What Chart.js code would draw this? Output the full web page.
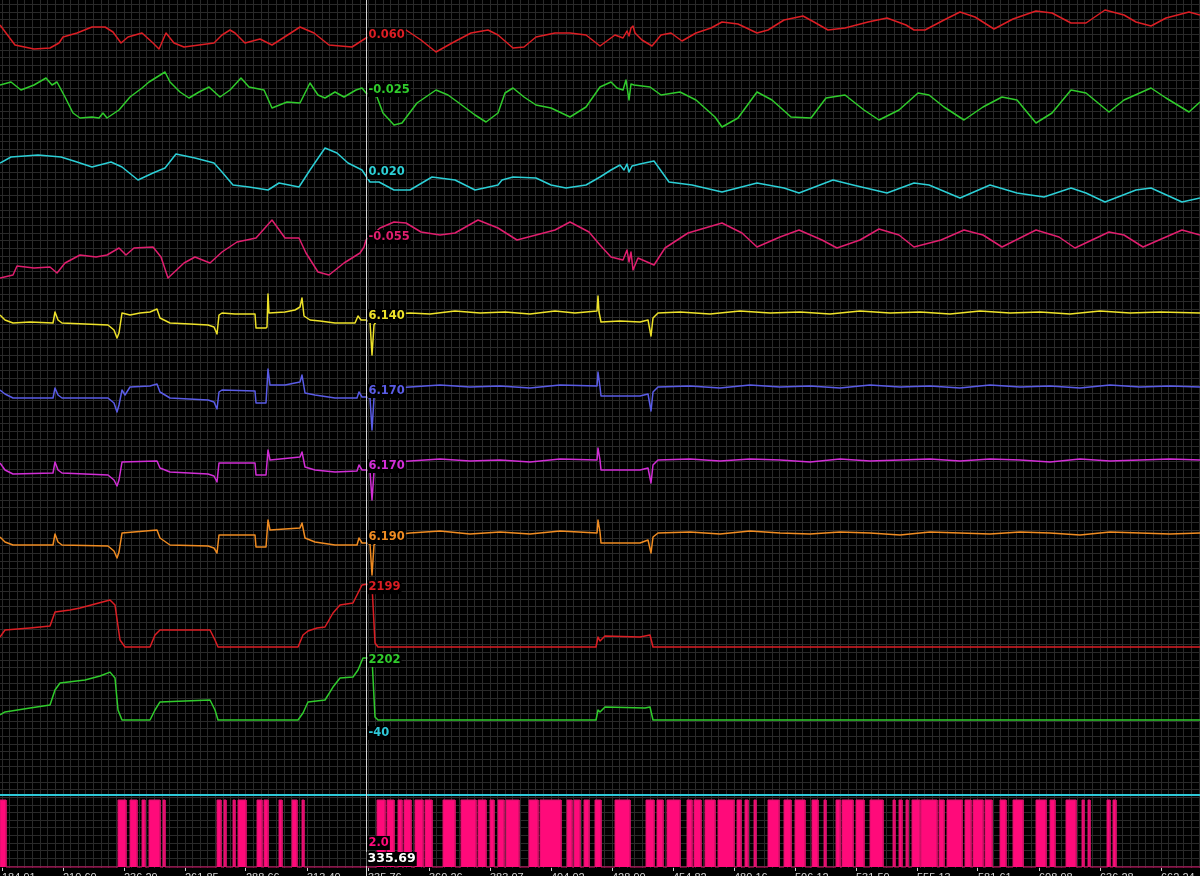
<!DOCTYPE html>
<html>
<head>
<meta charset="utf-8">
<script src="https://cdn.jsdelivr.net/npm/chart.js@4.4.1/dist/chart.umd.min.js"></script>
<style>
  html, body { margin: 0; padding: 0; background: #000; overflow: hidden; }
  #wrap { width: 1200px; height: 884px; }
</style>
</head>
<body>
<div id="wrap"><canvas id="scope"></canvas></div>
<script>
// x = sample index (0..1200), tick labels are the recorded times
const tickLabels = ['184.91', '210.60', '236.29', '261.85', '288.66', '313.40', '335.76', '360.26', '383.07', '404.02',
                    '428.90', '454.82', '480.16', '506.12', '531.50', '555.13', '581.61', '608.98', '636.28', '662.24'];
const cursorX = 366;
const cursorTime = '335.69';

const redWave = [[0,0.073],[6,0.065],[15,0.053],[34,0.049],[50,0.050],[59,0.055],[63,0.061],[77,0.065],[92,0.071],[105,0.071],
  [113,0.066],[121,0.055],[128,0.061],[142,0.065],[153,0.055],[159,0.049],[166,0.065],[174,0.055],[184,0.051],[199,0.053],
  [214,0.055],[222,0.063],[230,0.068],[235,0.065],[245,0.055],[260,0.059],[272,0.053],[283,0.060],[300,0.071],[314,0.065],
  [329,0.053],[352,0.051],[366,0.060],[385,0.065],[406,0.068],[421,0.058],[436,0.046],[452,0.055],[471,0.065],[488,0.068],
  [498,0.063],[513,0.050],[524,0.051],[536,0.061],[555,0.065],[570,0.065],[586,0.063],[600,0.052],[615,0.063],[623,0.060],
  [627,0.067],[629,0.062],[631,0.070],[633,0.072],[635,0.065],[642,0.058],[652,0.052],[661,0.063],[671,0.065],[682,0.057],
  [696,0.065],[711,0.070],[722,0.076],[738,0.074],[757,0.065],[768,0.068],[784,0.078],[803,0.082],[814,0.076],[828,0.068],
  [845,0.070],[868,0.076],[887,0.080],[906,0.073],[914,0.068],[925,0.068],[944,0.078],[960,0.086],[975,0.081],[994,0.069],
  [1013,0.079],[1036,0.087],[1052,0.085],[1071,0.075],[1086,0.075],[1105,0.088],[1124,0.083],[1136,0.076],[1151,0.072],
  [1166,0.080],[1189,0.086],[1200,0.083]];

const greenWave = [[0,-0.017],[11,-0.014],[21,-0.022],[34,-0.017],[46,-0.010],[52,-0.017],[57,-0.014],[65,-0.029],[73,-0.045],
  [80,-0.050],[92,-0.049],[99,-0.050],[103,-0.045],[107,-0.050],[119,-0.042],[130,-0.029],[142,-0.020],[149,-0.014],[157,-0.009],
  [165,-0.004],[170,-0.014],[180,-0.024],[189,-0.030],[199,-0.024],[209,-0.019],[220,-0.029],[230,-0.022],[241,-0.010],[249,-0.019],
  [264,-0.022],[272,-0.040],[287,-0.034],[300,-0.035],[310,-0.015],[318,-0.027],[325,-0.030],[335,-0.024],[344,-0.029],[356,-0.022],
  [362,-0.020],[366,-0.025],[377,-0.029],[383,-0.045],[394,-0.057],[402,-0.055],[417,-0.035],[436,-0.022],[448,-0.027],[459,-0.035],
  [475,-0.047],[486,-0.054],[498,-0.045],[505,-0.025],[513,-0.020],[524,-0.029],[536,-0.037],[551,-0.040],[570,-0.049],[586,-0.039],
  [600,-0.019],[611,-0.014],[617,-0.020],[623,-0.022],[626,-0.012],[629,-0.032],[631,-0.016],[634,-0.017],[650,-0.019],[661,-0.027],
  [680,-0.024],[696,-0.032],[715,-0.049],[722,-0.059],[738,-0.050],[757,-0.024],[772,-0.032],[791,-0.049],[811,-0.050],[826,-0.030],
  [845,-0.027],[864,-0.042],[879,-0.052],[899,-0.042],[918,-0.025],[929,-0.027],[944,-0.039],[964,-0.052],[983,-0.039],[1002,-0.029],
  [1017,-0.032],[1036,-0.055],[1052,-0.045],[1071,-0.022],[1086,-0.025],[1109,-0.044],[1124,-0.032],[1151,-0.020],[1166,-0.030],
  [1189,-0.044],[1200,-0.034]];

const cyanWave = [[0,0.033],[11,0.039],[38,0.041],[61,0.039],[77,0.034],[92,0.029],[111,0.034],[122,0.029],[138,0.016],[153,0.023],
  [165,0.028],[176,0.042],[195,0.038],[214,0.033],[222,0.024],[233,0.011],[249,0.009],[268,0.006],[279,0.013],[299,0.009],
  [310,0.026],[325,0.048],[337,0.043],[348,0.033],[362,0.026],[366,0.020],[370,0.014],[379,0.014],[394,0.006],[410,0.006],
  [432,0.019],[455,0.016],[475,0.006],[498,0.011],[502,0.016],[513,0.019],[536,0.018],[551,0.011],[566,0.008],[586,0.011],
  [600,0.019],[611,0.026],[620,0.031],[624,0.026],[627,0.032],[629,0.024],[632,0.030],[640,0.032],[654,0.035],[669,0.014],
  [692,0.011],[722,0.004],[757,0.013],[784,0.008],[799,0.003],[833,0.016],[853,0.011],[887,0.003],[914,0.013],[929,0.011],
  [960,-0.002],[990,0.011],[1017,0.003],[1044,-0.001],[1071,0.008],[1086,0.003],[1105,-0.006],[1136,0.006],[1151,0.008],
  [1182,-0.006],[1200,-0.002]];

const pinkWave = [[0,-0.093],[13,-0.090],[17,-0.081],[34,-0.083],[50,-0.082],[57,-0.088],[65,-0.078],[80,-0.070],[96,-0.072],
  [107,-0.070],[119,-0.063],[126,-0.070],[134,-0.063],[153,-0.062],[161,-0.072],[168,-0.093],[184,-0.078],[195,-0.072],[210,-0.078],
  [222,-0.067],[237,-0.057],[256,-0.053],[272,-0.035],[285,-0.053],[299,-0.053],[306,-0.068],[318,-0.087],[329,-0.090],[344,-0.078],
  [360,-0.068],[364,-0.062],[366,-0.055],[380,-0.043],[394,-0.037],[406,-0.038],[421,-0.047],[440,-0.050],[455,-0.048],[478,-0.035],
  [498,-0.043],[517,-0.055],[536,-0.050],[555,-0.045],[570,-0.037],[589,-0.047],[600,-0.060],[611,-0.072],[623,-0.075],[627,-0.065],
  [629,-0.077],[631,-0.067],[633,-0.085],[638,-0.073],[654,-0.080],[665,-0.063],[688,-0.048],[722,-0.038],[742,-0.048],[757,-0.062],
  [780,-0.052],[799,-0.045],[822,-0.055],[837,-0.063],[860,-0.055],[879,-0.044],[899,-0.050],[914,-0.062],[941,-0.055],[964,-0.045],
  [983,-0.050],[1002,-0.062],[1036,-0.045],[1059,-0.052],[1075,-0.063],[1109,-0.047],[1124,-0.050],[1143,-0.062],[1182,-0.045],
  [1200,-0.050]];

const yellowLevel = [[0,6.145],[5,6.140],[13,6.137],[30,6.138],[53,6.137],[55,6.148],[58,6.140],[62,6.137],[85,6.136],[108,6.135],
  [114,6.130],[117,6.122],[119,6.127],[122,6.147],[130,6.145],[140,6.147],[150,6.148],[157,6.151],[160,6.142],[170,6.137],
  [190,6.136],[208,6.135],[214,6.133],[217,6.126],[219,6.145],[222,6.147],[235,6.146],[255,6.146],[256,6.132],[266,6.132],
  [267,6.133],[268,6.166],[269,6.147],[285,6.148],[295,6.150],[300,6.153],[302,6.162],[304,6.144],[310,6.140],[320,6.139],
  [335,6.137],[355,6.137],[358,6.144],[361,6.140],[366,6.140],[370,6.138],[372,6.105],[374,6.135],[380,6.144],[395,6.146],
  [410,6.147],[430,6.146],[455,6.149],[480,6.147],[505,6.148],[530,6.146],[555,6.149],[575,6.147],[597,6.149],[598,6.164],
  [599,6.148],[601,6.138],[620,6.139],[640,6.138],[648,6.140],[651,6.124],[653,6.142],[658,6.147],[680,6.148],[710,6.146],
  [740,6.149],[770,6.147],[800,6.148],[830,6.146],[860,6.149],[890,6.147],[920,6.148],[950,6.146],[980,6.149],[1010,6.147],
  [1040,6.148],[1070,6.146],[1100,6.149],[1130,6.147],[1160,6.148],[1200,6.147]];

const blueLevel = [[0,6.177],[5,6.173],[13,6.169],[53,6.169],[55,6.179],[58,6.172],[62,6.169],[108,6.169],[114,6.164],[117,6.155],
  [119,6.162],[122,6.177],[125,6.172],[130,6.180],[150,6.181],[157,6.183],[160,6.175],[170,6.169],[208,6.167],[214,6.165],
  [217,6.158],[219,6.175],[222,6.177],[255,6.176],[256,6.164],[266,6.164],[268,6.198],[270,6.182],[285,6.182],[300,6.185],
  [302,6.192],[305,6.174],[315,6.172],[335,6.169],[357,6.169],[359,6.175],[362,6.170],[366,6.170],[370,6.169],[372,6.137],
  [374,6.169],[380,6.176],[395,6.179],[410,6.180],[440,6.182],[470,6.180],[500,6.181],[530,6.179],[560,6.182],[597,6.181],
  [598,6.195],[600,6.180],[601,6.171],[640,6.171],[648,6.173],[651,6.156],[653,6.175],[658,6.180],[690,6.181],[720,6.179],
  [750,6.182],[780,6.180],[810,6.181],[840,6.179],[870,6.182],[900,6.180],[930,6.181],[960,6.179],[990,6.182],[1020,6.180],
  [1050,6.181],[1080,6.179],[1110,6.182],[1140,6.180],[1170,6.181],[1200,6.180]];

const violetLevel = [[0,6.177],[5,6.170],[13,6.166],[53,6.167],[55,6.178],[58,6.170],[62,6.167],[108,6.165],[114,6.160],[117,6.154],
  [119,6.160],[122,6.178],[157,6.179],[160,6.172],[170,6.168],[208,6.166],[214,6.164],[217,6.158],[219,6.177],[255,6.177],
  [256,6.165],[266,6.165],[268,6.190],[270,6.180],[300,6.183],[302,6.188],[305,6.173],[315,6.170],[335,6.168],[357,6.169],
  [359,6.175],[362,6.170],[366,6.170],[370,6.169],[372,6.140],[374,6.168],[380,6.175],[395,6.178],[410,6.179],[440,6.181],
  [470,6.179],[500,6.180],[530,6.178],[560,6.181],[597,6.180],[598,6.192],[600,6.180],[601,6.170],[640,6.170],[648,6.172],
  [651,6.157],[653,6.175],[658,6.180],[690,6.181],[720,6.179],[750,6.181],[780,6.180],[810,6.178],[840,6.181],[870,6.179],
  [900,6.180],[930,6.181],[960,6.179],[990,6.181],[1020,6.180],[1050,6.178],[1080,6.181],[1110,6.179],[1140,6.180],
  [1170,6.181],[1200,6.180]];

const orangeLevel = [[0,6.196],[5,6.191],[13,6.188],[53,6.188],[55,6.199],[58,6.191],[62,6.188],[108,6.187],[114,6.182],[117,6.175],
  [119,6.181],[122,6.200],[157,6.203],[160,6.195],[170,6.188],[208,6.187],[214,6.185],[217,6.180],[219,6.198],[255,6.198],
  [256,6.186],[266,6.186],[268,6.213],[270,6.203],[300,6.205],[302,6.210],[305,6.195],[315,6.191],[335,6.188],[357,6.188],
  [359,6.195],[362,6.190],[366,6.190],[370,6.189],[372,6.158],[374,6.188],[380,6.195],[395,6.198],[410,6.200],[440,6.202],
  [470,6.199],[500,6.201],[530,6.199],[560,6.202],[597,6.200],[598,6.213],[600,6.201],[601,6.190],[640,6.190],[648,6.193],
  [651,6.180],[653,6.196],[658,6.200],[690,6.201],[720,6.199],[750,6.202],[780,6.200],[810,6.199],[840,6.201],[870,6.200],
  [900,6.198],[930,6.201],[960,6.200],[990,6.199],[1020,6.201],[1050,6.200],[1080,6.198],[1110,6.201],[1140,6.200],
  [1170,6.199],[1200,6.200]];

const redCount = [[0,350],[5,595],[30,665],[50,735],[55,1225],[70,1295],[80,1365],[95,1505],[110,1645],[115,1470],[120,245],
  [125,0],[150,0],[155,420],[160,595],[210,595],[215,245],[218,0],[298,0],[303,420],[308,560],[317,665],[325,700],[333,1190],
  [340,1470],[353,1540],[358,1890],[362,2170],[366,2199],[372,2170],[375,140],[378,0],[596,0],[598,350],[600,210],[605,385],
  [640,350],[650,420],[653,0],[1200,0]];

const greenCount = [[0,180],[5,285],[30,425],[50,530],[55,1065],[60,1315],[85,1420],[100,1560],[110,1700],[115,1490],[118,355],
  [122,0],[150,0],[155,355],[160,640],[210,710],[215,355],[218,0],[298,0],[303,250],[308,640],[325,710],[333,1170],[340,1490],
  [353,1525],[358,1775],[363,2200],[366,2202],[372,2200],[375,105],[378,0],[596,0],[598,355],[600,285],[605,460],[645,425],
  [650,460],[653,0],[1200,0]];

const refLevel = -40;
const bitLevel = 2.0;
const bitOn = [[0,6],[118,126],[130,137],[142,145],[149,160],[163,165],[217,221],[224,226],[233,235],[238,246],[257,262],
  [264,268],[279,282],[292,297],[302,304],[377,385],[387,394],[398,402],[404,411],[415,423],[425,432],[443,455],[461,476],
  [478,486],[490,494],[498,504],[506,519],[529,538],[540,561],[567,572],[574,580],[584,589],[595,601],[615,630],[646,654],
  [657,663],[667,680],[687,692],[694,701],[705,715],[718,734],[737,741],[745,748],[754,756],[768,779],[784,791],[795,805],
  [812,818],[824,826],[836,840],[842,853],[856,864],[870,883],[893,895],[899,902],[906,908],[912,920],[921,937],[939,944],
  [947,962],[965,971],[973,983],[985,992],[1000,1006],[1013,1023],[1036,1046],[1050,1055],[1066,1076],[1082,1084],
  [1088,1090],[1107,1110],[1113,1116]];

const H = 868; // plot area height

// scale range so that value v1 sits at pixel p1 and v2 at p2
function band(v1, p1, v2, p2) {
  const perPx = (v1 - v2) / (p2 - p1);
  return { min: v1 - (H - p1) * perPx, max: v1 + p1 * perPx };
}

function valueAt(points, x) {
  for (let i = 1; i < points.length; i++) {
    const [x0, y0] = points[i - 1];
    const [x1, y1] = points[i];
    if (x >= x0 && x <= x1) {
      return x1 === x0 ? y1 : y0 + (y1 - y0) * (x - x0) / (x1 - x0);
    }
  }
  return points[points.length - 1][1];
}

const traces = [
  { data: redWave,     color: '#dc1e24', band: band(0.060, 38, 0.050, 48),  dec: 3, dy: -3 },
  { data: greenWave,   color: '#30cc2c', band: band(-0.025, 93, -0.035, 103), dec: 3, dy: -3 },
  { data: cyanWave,    color: '#2ccfd6', band: band(0.020, 176, 0.010, 186), dec: 3, dy: -4 },
  { data: pinkWave,    color: '#e01e6e', band: band(-0.055, 240, -0.065, 250), dec: 3, dy: -3 },
  { data: yellowLevel, color: '#eee22a', band: band(6.140, 320, 6.130, 330), dec: 3, dy: -4 },
  { data: blueLevel,   color: '#5a5ce6', band: band(6.170, 397, 6.160, 407), dec: 3, dy: -6 },
  { data: violetLevel, color: '#d22ed6', band: band(6.170, 470, 6.160, 480), dec: 3, dy: -4 },
  { data: orangeLevel, color: '#f08c22', band: band(6.190, 543, 6.180, 553), dec: 3, dy: -6 },
  { data: redCount,    color: '#dc1e24', band: band(0, 647, 2100, 587), dec: 0, dy: 3 },
  { data: greenCount,  color: '#30cc2c', band: band(0, 720, 2130, 660), dec: 0, dy: 2 },
  { data: [[0, refLevel], [1200, refLevel]], color: '#2ec8d8', band: band(-40, 795, 0, 755), dec: 0, dy: -62, width: 2 }
];

const scales = {};
const datasets = [];

// bit strip (drawn first so the traces sit on top)
const bitPoints = [{ x: 0, y: 0 }];
bitOn.forEach(([a, b]) => {
  bitPoints.push({ x: a, y: 0 }, { x: a, y: bitLevel }, { x: b, y: bitLevel }, { x: b, y: 0 });
});
bitPoints.push({ x: 1200, y: 0 });
scales.yBits = Object.assign({ type: 'linear', display: false }, band(0, 867, 2, 800));
datasets.push({
  data: bitPoints,
  yAxisID: 'yBits',
  borderColor: '#d8106a',
  backgroundColor: '#ff0a7a',
  borderWidth: 1,
  fill: 'origin',
  pointRadius: 0,
  readout: { value: bitLevel, dec: 1, dy: 43 }
});

traces.forEach((t, i) => {
  const id = 'y' + i;
  scales[id] = Object.assign({ type: 'linear', display: false }, t.band);
  datasets.push({
    data: t.data.map(([x, y]) => ({ x, y })),
    yAxisID: id,
    borderColor: t.color,
    borderWidth: t.width || 1.5,
    borderJoinStyle: 'round',
    pointRadius: 0,
    fill: false,
    readout: { value: valueAt(t.data, cursorX), dec: t.dec, dy: t.dy }
  });
});

// fine grid: 8 cells per time tick
scales.xg = {
  type: 'linear', position: 'top', min: 0, max: 1200,
  ticks: { display: false },
  grid: { color: '#2a2a2a', drawTicks: false },
  border: { display: false },
  afterBuildTicks(s) {
    s.ticks = [];
    for (let v = 2; v <= 1200; v += 7.625) s.ticks.push({ value: v });
  }
};
scales.yg = {
  type: 'linear', position: 'left', min: 0, max: H, reverse: true,
  ticks: { display: false },
  grid: { color: '#2a2a2a', drawTicks: false },
  border: { display: false },
  afterBuildTicks(s) {
    s.ticks = [];
    for (let v = 4.4; v <= H; v += 7.625) s.ticks.push({ value: v });
  }
};
scales.x = {
  type: 'linear', position: 'bottom', min: 0, max: 1200,
  afterBuildTicks(s) {
    s.ticks = tickLabels.map((_, i) => ({ value: 2 + 61 * i }));
  },
  afterFit(s) {
    s.height = 16;
    s.paddingLeft = 0;
    s.paddingRight = 0;
  },
  ticks: {
    autoSkip: false, maxRotation: 0, align: 'start', padding: 0,
    color: '#d4d4d4',
    font: { family: 'Liberation Sans', size: 11 },
    callback: (v, i) => tickLabels[i]
  },
  grid: { drawOnChartArea: false, drawTicks: true, tickLength: 3, color: '#d0d0d0' },
  border: { display: false }
};

function drawTag(ctx, text, x, y, color, font) {
  ctx.font = font;
  const w = ctx.measureText(text).width;
  ctx.fillStyle = '#000';
  ctx.fillRect(x, y - 7, w + 2, 14);
  ctx.fillStyle = color;
  ctx.textBaseline = 'middle';
  ctx.textAlign = 'left';
  ctx.fillText(text, x + 1, y);
}

const cursorPlugin = {
  id: 'cursor',
  beforeDraw(chart) {
    const ctx = chart.ctx;
    ctx.save();
    ctx.fillStyle = '#000';
    ctx.fillRect(0, 0, chart.width, chart.height);
    ctx.restore();
  },
  afterDatasetsDraw(chart) {
    const ctx = chart.ctx;
    const x = Math.round(chart.scales.x.getPixelForValue(cursorX)) + 0.5;
    ctx.save();
    ctx.strokeStyle = '#d6d6d6';
    ctx.lineWidth = 1;
    ctx.beginPath();
    ctx.moveTo(x, 0);
    ctx.lineTo(x, chart.height);
    ctx.stroke();
    chart.data.datasets.forEach((ds) => {
      const r = ds.readout;
      const y = chart.scales[ds.yAxisID].getPixelForValue(r.value) + r.dy;
      const color = ds.fill ? ds.backgroundColor : ds.borderColor;
      drawTag(ctx, r.value.toFixed(r.dec), x + 1, y, color, 'bold 11.5px "DejaVu Sans"');
    });
    drawTag(ctx, cursorTime, x, 859, '#ffffff', 'bold 12.5px "DejaVu Sans"');
    ctx.restore();
  }
};

new Chart(document.getElementById('scope'), {
  type: 'line',
  data: { datasets },
  options: {
    responsive: true,
    maintainAspectRatio: false,
    animation: false,
    layout: { padding: 0 },
    scales,
    plugins: { legend: { display: false }, tooltip: { enabled: false } }
  },
  plugins: [cursorPlugin]
});
</script>
</body>
</html>
